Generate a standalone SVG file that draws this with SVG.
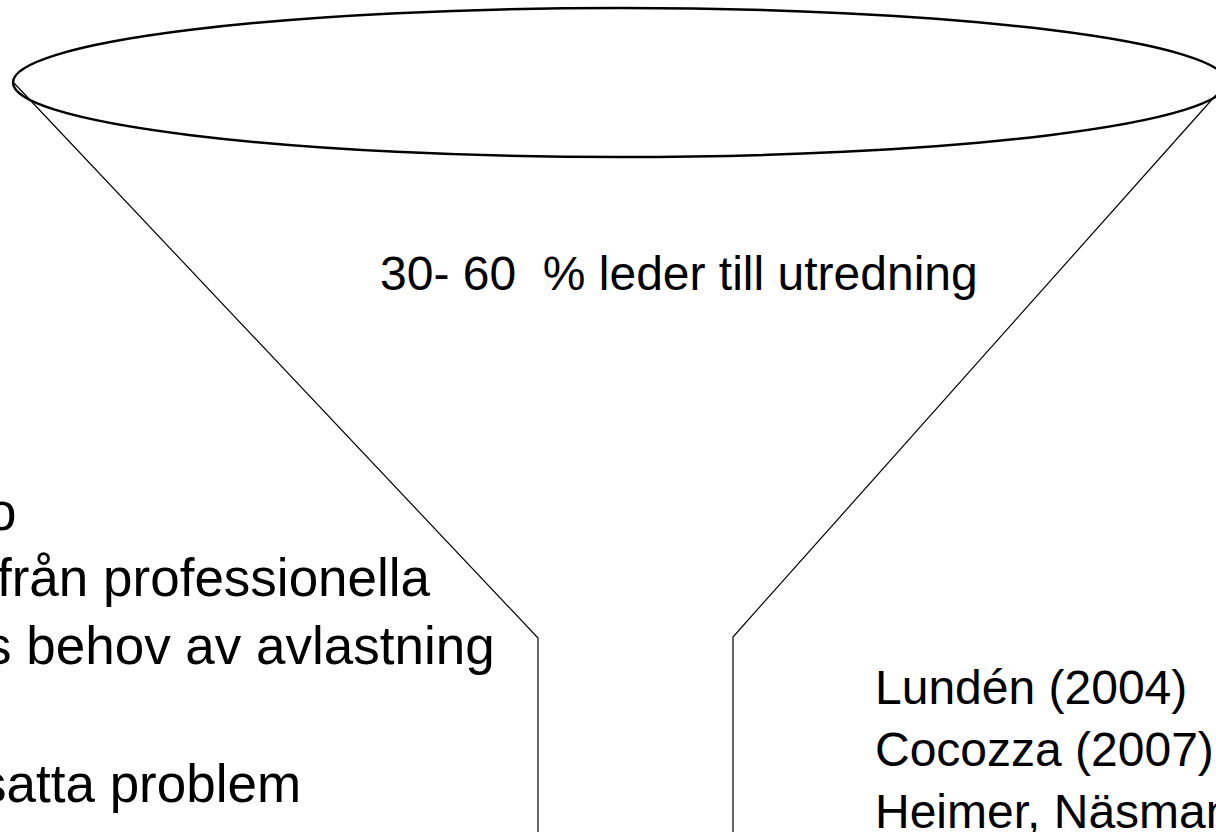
<svg xmlns="http://www.w3.org/2000/svg" width="1216" height="832" viewBox="0 0 1216 832">
<style>
.t{font-family:"Liberation Sans",Arial,sans-serif;fill:#000;}
.rim{fill:none;stroke:#000;stroke-width:2.5;}
.wall{fill:none;stroke:#000;stroke-width:1.2;}
</style>
<rect width="1216" height="832" fill="#fff"/>
<g id="connectors">
<polyline class="wall" points="14,83 538,638 538,832"/>
<polyline class="wall" points="1216,95 733,637 733,832"/>
</g>
<g id="funnel-top">
<ellipse class="rim" cx="620" cy="82.5" rx="607" ry="74.5"/>
</g>
<g id="center-label">
<text class="t" x="380" y="290" font-size="48" xml:space="preserve">30- 60  % leder till utredning</text>
</g>
<g id="left-text">
<text class="t" x="-13" y="530" font-size="53">o</text>
<text class="t" x="-3" y="596" font-size="53">från professionella</text>
<text class="t" x="-15" y="664" font-size="53">s behov av avlastning</text>
<text class="t" x="-20" y="802" font-size="53">satta problem</text>
</g>
<g id="right-text">
<text class="t" x="875" y="704" font-size="48">Lundén (2004)</text>
<text class="t" x="875" y="766" font-size="48">Cocozza (2007)</text>
<text class="t" x="875" y="828" font-size="48">Heimer, Näsman</text>
</g>
</svg>
